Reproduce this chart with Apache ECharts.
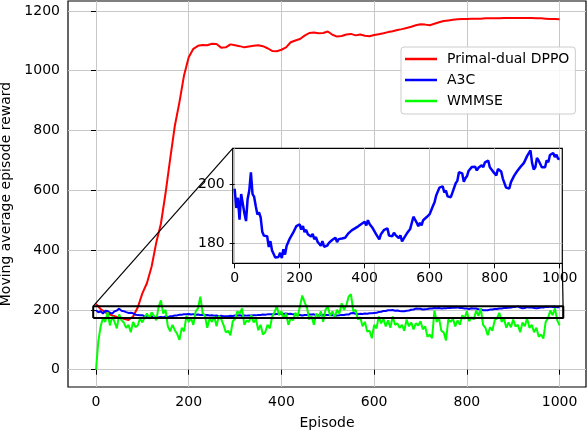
<!DOCTYPE html>
<html>
<head>
<meta charset="utf-8">
<script src="https://cdn.jsdelivr.net/npm/echarts@6.0.0/dist/echarts.min.js"></script>
<style>
    html, body { margin: 0; padding: 0; background: #fff; }
    #main { width: 588px; height: 432px; }
</style>
</head>
<body>
<div id="main"></div>
<script>
// moving average reward
const dppoStep = 10;
const dppoReward = [
    220, 203, 192, 184, 179, 174, 170, 166, 178, 208,
    255, 290, 345, 425, 488, 590, 705, 815, 895, 985,
    1045, 1073, 1083, 1086, 1085, 1090, 1089, 1077, 1078, 1088,
    1085, 1082, 1078, 1081, 1083, 1085, 1082, 1075, 1066, 1065,
    1070, 1078, 1095, 1101, 1106, 1117, 1126, 1128, 1125, 1126,
    1131, 1120, 1114, 1116, 1121, 1123, 1118, 1121, 1117, 1115,
    1119, 1122, 1125, 1129, 1132, 1136, 1139, 1143, 1147, 1152,
    1155, 1154, 1152, 1157, 1162, 1166, 1168, 1170, 1172, 1173,
    1173, 1174, 1174, 1174, 1175, 1175, 1175, 1175, 1176, 1176,
    1176, 1176, 1176, 1176, 1176, 1175, 1175, 1174, 1173, 1173,
    1172
];

const a3cStep = 5;
const a3cReward = [
    198.6, 192.0, 195.5, 188.0, 196.8, 196.5, 190.2, 187.5, 195.2, 198.0,
    204.2, 196.8, 195.8, 192.6, 189.8, 190.5, 188.8, 183.8, 182.5, 182.2,
    182.3, 178.6, 180.6, 177.4, 177.8, 175.0, 174.6, 175.2, 176.6, 174.8,
    177.8, 176.0, 179.0, 178.8, 181.6, 181.6, 183.5, 184.0, 185.8, 185.4,
    186.4, 184.6, 185.8, 183.7, 184.5, 183.0, 183.5, 182.2, 183.1, 181.3,
    182.0, 180.4, 181.0, 179.0, 180.6, 178.7, 178.8, 179.1, 180.0, 179.9,
    181.0, 181.0, 181.8, 180.3, 181.3, 180.8, 181.5, 181.1, 181.8, 181.7,
    183.3, 182.9, 184.3, 183.8, 185.0, 185.0, 185.7, 185.1, 186.5, 186.0,
    187.3, 186.0, 187.8, 186.5, 186.8, 185.0, 184.7, 183.0, 182.9, 181.2,
    183.0, 183.1, 184.5, 184.2, 185.0, 182.5, 182.2, 182.3, 183.5, 182.7,
    183.3, 181.7, 182.6, 180.5, 181.5, 182.0, 183.3, 182.9, 184.8, 184.3,
    189.0, 189.4, 187.0, 185.7, 186.9, 186.0, 187.8, 187.4, 188.8, 188.8,
    189.9, 190.0, 192.7, 194.0, 196.3, 196.4, 199.0, 198.7, 199.4, 197.3,
    198.0, 196.0, 195.8, 195.7, 197.3, 197.8, 200.5, 201.3, 204.3, 204.1,
    203.9, 201.0, 202.2, 203.0, 204.8, 204.7, 206.1, 205.5, 206.2, 204.9,
    205.8, 205.3, 206.7, 206.0, 207.7, 207.1, 208.3, 206.0, 206.3, 204.5,
    204.5, 203.2, 205.4, 204.9, 204.5, 202.1, 201.7, 199.0, 198.6, 198.7,
    200.9, 201.0, 203.1, 202.7, 204.8, 204.6, 206.2, 206.0, 207.5, 207.7,
    209.9, 210.0, 211.8, 207.5, 205.2, 206.0, 209.2, 208.3, 208.3, 206.0,
    205.5, 206.0, 208.4, 207.7, 210.2, 209.7, 210.9, 209.5, 210.3, 208.9,
    208.8
];

const wmmseStep = 5;
const wmmseReward = [
    0, 95, 145, 172, 160, 192, 148, 178, 160, 138,
    185, 165, 158, 140, 150, 125, 160, 142, 148, 172,
    158, 175, 188, 170, 192, 180, 165, 210, 232, 188,
    200, 145, 128, 150, 132, 120, 100, 140, 128, 180,
    160, 172, 150, 195, 205, 244, 190, 180, 140, 170,
    160, 178, 145, 180, 170, 150, 125, 130, 115, 162,
    170, 195, 188, 205, 150, 165, 160, 182, 158, 170,
    132, 150, 118, 125, 150, 138, 178, 192, 212, 182,
    195, 172, 188, 150, 172, 165, 190, 178, 212, 248,
    225, 208, 168, 178, 150, 188, 175, 195, 160, 200,
    212, 180, 195, 175, 200, 188, 222, 200, 215, 245,
    252, 195, 200, 168, 175, 145, 160, 128, 130, 105,
    150, 138, 178, 155, 170, 145, 165, 140, 178, 150,
    155, 140, 150, 130, 168, 145, 158, 135, 155, 148,
    162, 135, 145, 110, 118, 105, 198, 160, 172, 130,
    125, 98, 168, 160, 170, 145, 165, 150, 182, 170,
    196, 162, 175, 168, 198, 180, 205, 150, 140, 115,
    142, 130, 165, 172, 190, 160, 172, 140, 158, 142,
    168, 145, 150, 125, 158, 145, 172, 140, 150, 125,
    140, 110, 118, 104, 160, 172, 198, 182, 205, 165,
    148
];

const xTicks = [0, 200, 400, 600, 800, 1000];
const yTicks = [0, 200, 400, 600, 800, 1000, 1200];
const insetYTicks = [180, 200];
// zoomed window (episode range, reward range)
const zoomX = [-6, 1008];
const zoomY = [173, 212.5];

const toPoints = (step, values) => values.map((v, i) => [i * step, v]);

const font = 'DejaVu Sans';
const gridLine = {show: true, lineStyle: {color: '#c8c8c8', width: 1}};
const tickLabel = {margin: 8, fontFamily: font, fontSize: 14, color: '#000', formatter: v => String(v)};

let option = {
    animation: false,
    backgroundColor: '#fff',
    textStyle: {fontFamily: font},
    grid: [
        {left: 68, right: 2, top: 1, bottom: 45, outerBoundsMode: 'none', containLabel: false,
            show: true, borderColor: '#000', borderWidth: 1.2, backgroundColor: '#fff'},
        {left: 232.7, top: 148.3, width: 329.6, height: 115, outerBoundsMode: 'none', containLabel: false,
            show: true, z: 10, borderColor: '#000', borderWidth: 1.2, backgroundColor: '#fff'}
    ],
    legend: {
        data: ['Primal-dual DPPO', 'A3C', 'WMMSE'],
        orient: 'vertical',
        left: 401,
        top: 47,
        padding: [4, 6, 5, 4],
        itemGap: 5,
        itemWidth: 32,
        itemHeight: 2.5,
        icon: 'rect',
        backgroundColor: 'rgba(255,255,255,0.85)',
        borderColor: '#cccccc',
        borderWidth: 1,
        borderRadius: 3,
        z: 20,
        textStyle: {fontFamily: font, fontSize: 14, color: '#000', lineHeight: 16, padding: [0, 0, 0, 5]}
    },
    xAxis: [
        {
            type: 'value', gridIndex: 0, min: -60.4, max: 1057,
            name: 'Episode', nameLocation: 'middle', nameGap: 29,
            nameTextStyle: {fontFamily: font, fontSize: 14, color: '#000'},
            axisLine: {show: false},
            axisTick: {show: true, length: 5, customValues: xTicks, lineStyle: {color: '#000'}},
            axisLabel: Object.assign({customValues: xTicks}, tickLabel),
            splitLine: gridLine
        },
        {
            type: 'value', gridIndex: 1, min: zoomX[0], max: zoomX[1], z: 11,
            axisLine: {show: false},
            axisTick: {show: true, length: 5, customValues: xTicks, lineStyle: {color: '#000'}},
            axisLabel: Object.assign({customValues: xTicks}, tickLabel),
            splitLine: gridLine
        }
    ],
    yAxis: [
        {
            type: 'value', gridIndex: 0, min: -57.9, max: 1233,
            name: 'Moving average episode reward', nameLocation: 'middle', nameGap: 51,
            nameTextStyle: {fontFamily: font, fontSize: 14, color: '#000'},
            axisLine: {show: false},
            axisTick: {show: true, length: 5, customValues: yTicks, lineStyle: {color: '#000'}},
            axisLabel: Object.assign({customValues: yTicks}, tickLabel),
            splitLine: gridLine
        },
        {
            type: 'value', gridIndex: 1, min: zoomY[0], max: zoomY[1], z: 11,
            axisLine: {show: false},
            axisTick: {show: true, length: 5, customValues: insetYTicks, lineStyle: {color: '#000'}},
            axisLabel: Object.assign({customValues: insetYTicks}, tickLabel),
            splitLine: gridLine
        }
    ],
    series: [
        {
            name: 'Primal-dual DPPO', type: 'line', xAxisIndex: 0, yAxisIndex: 0,
            data: toPoints(dppoStep, dppoReward), symbol: 'none', color: '#ff0000',
            lineStyle: {width: 2}, z: 2
        },
        {
            name: 'A3C', type: 'line', xAxisIndex: 0, yAxisIndex: 0,
            data: toPoints(a3cStep, a3cReward), symbol: 'none', color: '#0000ff',
            lineStyle: {width: 2}, z: 3
        },
        {
            name: 'WMMSE', type: 'line', xAxisIndex: 0, yAxisIndex: 0,
            data: toPoints(wmmseStep, wmmseReward), symbol: 'none', color: '#00ff00',
            lineStyle: {width: 2}, z: 4
        },
        {
            name: 'zoom box', type: 'line', xAxisIndex: 0, yAxisIndex: 0,
            data: [[zoomX[0], zoomY[0]], [zoomX[1], zoomY[0]], [zoomX[1], zoomY[1]], [zoomX[0], zoomY[1]], [zoomX[0], zoomY[0]]],
            symbol: 'none', color: '#000', lineStyle: {width: 2}, z: 5, silent: true
        },
        {
            name: 'A3C', type: 'line', xAxisIndex: 1, yAxisIndex: 1,
            data: toPoints(a3cStep, a3cReward), symbol: 'none', color: '#0000ff',
            lineStyle: {width: 2.5}, z: 12, clip: true
        }
    ]
};

let chartDom = document.getElementById('main');
let myChart = echarts.init(chartDom, null, {renderer: 'canvas'});
myChart.setOption(option);

// connector lines between the zoom box and the inset corners
let p1 = myChart.convertToPixel({gridIndex: 0}, [zoomX[0], zoomY[1]]);
let q1 = myChart.convertToPixel({gridIndex: 1}, [zoomX[0], zoomY[1]]);
let p2 = myChart.convertToPixel({gridIndex: 0}, [zoomX[1], zoomY[0]]);
let q2 = myChart.convertToPixel({gridIndex: 1}, [zoomX[1], zoomY[0]]);
myChart.setOption({
    graphic: [
        {type: 'line', z: 30, shape: {x1: p1[0], y1: p1[1], x2: q1[0], y2: q1[1]}, style: {stroke: '#000', lineWidth: 1.2}},
        {type: 'line', z: 30, shape: {x1: p2[0], y1: p2[1], x2: q2[0], y2: q2[1]}, style: {stroke: '#000', lineWidth: 1.2}}
    ]
});
</script>
</body>
</html>
